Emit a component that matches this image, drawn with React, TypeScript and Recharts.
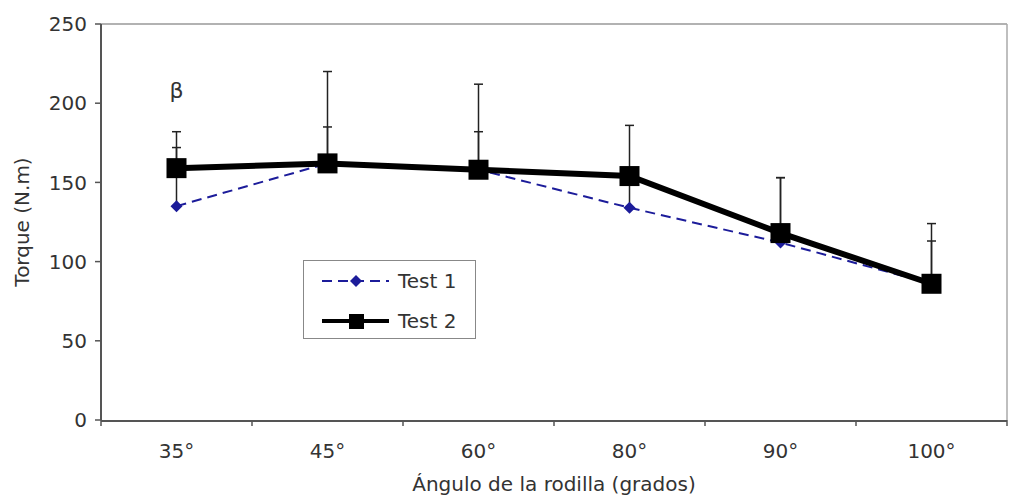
import React from 'react';
import { LineChart, Line, XAxis, YAxis, ErrorBar, Legend, ReferenceLine, ReferenceDot } from 'recharts';

const categories = ['35°', '45°', '60°', '80°', '90°', '100°'];
const test1 = [135, 162, 158, 134, 112, 86];
const test2 = [159, 162, 158, 154, 118, 86];
const test1Err = [37, 23, 24, 18, 41, 27];
const test2Err = [23, 58, 54, 32, 35, 38];
const yTicks = [0, 50, 100, 150, 200, 250];
const boundaryTicks = [0, 1, 2, 3, 4, 5, 6];
const betaNote = { category: '35°', value: 208, text: 'β' };
const seriesNames = ['Test 1', 'Test 2'];

const data = categories.map((c, i) => ({
  cat: c,
  pos: i + 0.5,
  t1: test1[i],
  t2: test2[i],
  e1: [0, test1Err[i]],
  e2: [0, test2Err[i]],
}));

const FONT = "'DejaVu Sans', Verdana, sans-serif";
const AXIS = '#555';
const TEXT = '#333';
const BLUE = '#1c1c9a';

const EmptyTick = () => <g />;

const SquareDot = (props: any) => {
  const { cx, cy, index } = props;
  if (cx == null || cy == null) return <g key={index} />;
  return <rect key={index} x={cx - 10} y={cy - 10} width={20} height={20} fill="#000" />;
};

const DiamondDot = (props: any) => {
  const { cx, cy, index } = props;
  if (cx == null || cy == null) return <g key={index} />;
  return (
    <polygon
      key={index}
      points={`${cx},${cy - 6} ${cx + 6},${cy} ${cx},${cy + 6} ${cx - 6},${cy}`}
      fill={BLUE}
    />
  );
};

const LegendBox = () => (
  <div
    style={{
      border: '1px solid #888',
      background: '#fff',
      width: 171,
      height: 77,
      boxSizing: 'content-box',
      fontFamily: FONT,
      fontSize: 20,
      color: TEXT,
    }}
  >
    <svg width={171} height={77}>
      <line x1={18} x2={85} y1={20} y2={20} stroke={BLUE} strokeWidth={2} strokeDasharray="10 6" />
      <polygon points="52,14 58,20 52,26 46,20" fill={BLUE} />
      <text x={94} y={27} fill={TEXT} fontSize={20} fontFamily={FONT}>{seriesNames[0]}</text>
      <line x1={18} x2={85} y1={60} y2={60} stroke="#000" strokeWidth={4} />
      <rect x={45} y={53} width={15} height={15} fill="#000" />
      <text x={94} y={67} fill={TEXT} fontSize={20} fontFamily={FONT}>{seriesNames[1]}</text>
    </svg>
  </div>
);

export default function App() {
  return (
    <div style={{ position: 'absolute', left: 0, top: 0 }}>
      <LineChart
        width={1009}
        height={496}
        data={data}
        margin={{ top: 24, right: 2, left: 0, bottom: 0 }}
        style={{ fontFamily: FONT, background: '#fff' }}
      >
        <XAxis
          xAxisId={0}
          dataKey="pos"
          type="number"
          domain={[0, 6]}
          ticks={boundaryTicks}
          allowDataOverflow
          tick={<EmptyTick />}
          axisLine={false}
          tickLine={{ stroke: AXIS, strokeWidth: 1.5 }}
          tickSize={6}
          height={1}
        />
        <XAxis
          xAxisId="cat"
          dataKey="cat"
          scale="band"
          height={75}
          tickLine={false}
          tickSize={6}
          tickMargin={17}
          axisLine={{ stroke: AXIS, strokeWidth: 2 }}
          tick={{ fill: TEXT, fontSize: 20 }}
          label={{
            value: 'Ángulo de la rodilla (grados)',
            position: 'insideBottom',
            offset: 5,
            fill: TEXT,
            fontSize: 20,
          }}
        />
        <YAxis
          domain={[0, 250]}
          ticks={yTicks}
          width={101}
          tickSize={6}
          tickMargin={8}
          axisLine={{ stroke: AXIS, strokeWidth: 2 }}
          tickLine={{ stroke: AXIS, strokeWidth: 1.5 }}
          tick={{ fill: TEXT, fontSize: 20 }}
          label={{
            value: 'Torque (N.m)',
            angle: -90,
            position: 'insideLeft',
            offset: 22,
            fill: TEXT,
            fontSize: 20,
            style: { textAnchor: 'middle' },
          }}
        />
        <ReferenceLine xAxisId="cat" y={250} stroke="#999" strokeWidth={1.5} />
        <ReferenceLine xAxisId={0} x={6} stroke="#aaa" strokeWidth={1.5} />
        <Line
          xAxisId={0}
          dataKey="t1"
          stroke="none"
          dot={false}
          activeDot={false}
          legendType="none"
          isAnimationActive={false}
        />
        <Line
          xAxisId="cat"
          dataKey="t1"
          name={seriesNames[0]}
          stroke={BLUE}
          strokeWidth={2}
          strokeDasharray="10 6"
          dot={<DiamondDot />}
          activeDot={false}
          isAnimationActive={false}
        >
          <ErrorBar dataKey="e1" direction="y" width={4.5} stroke="#222" strokeWidth={1.5} />
        </Line>
        <Line
          xAxisId="cat"
          dataKey="t2"
          name={seriesNames[1]}
          stroke="#000"
          strokeWidth={6}
          dot={<SquareDot />}
          activeDot={false}
          isAnimationActive={false}
        >
          <ErrorBar dataKey="e2" direction="y" width={4.5} stroke="#222" strokeWidth={1.5} />
        </Line>
        <ReferenceDot
          xAxisId="cat"
          x={betaNote.category}
          y={betaNote.value}
          r={0}
          fill="none"
          stroke="none"
          label={{ value: betaNote.text, position: 'center', fill: TEXT, fontSize: 22 }}
        />
        <Legend
          layout="horizontal"
          verticalAlign="middle"
          align="center"
          content={<LegendBox />}
          wrapperStyle={{ position: 'absolute', left: 303, top: 260, width: 173, height: 79 }}
        />
      </LineChart>
    </div>
  );
}
